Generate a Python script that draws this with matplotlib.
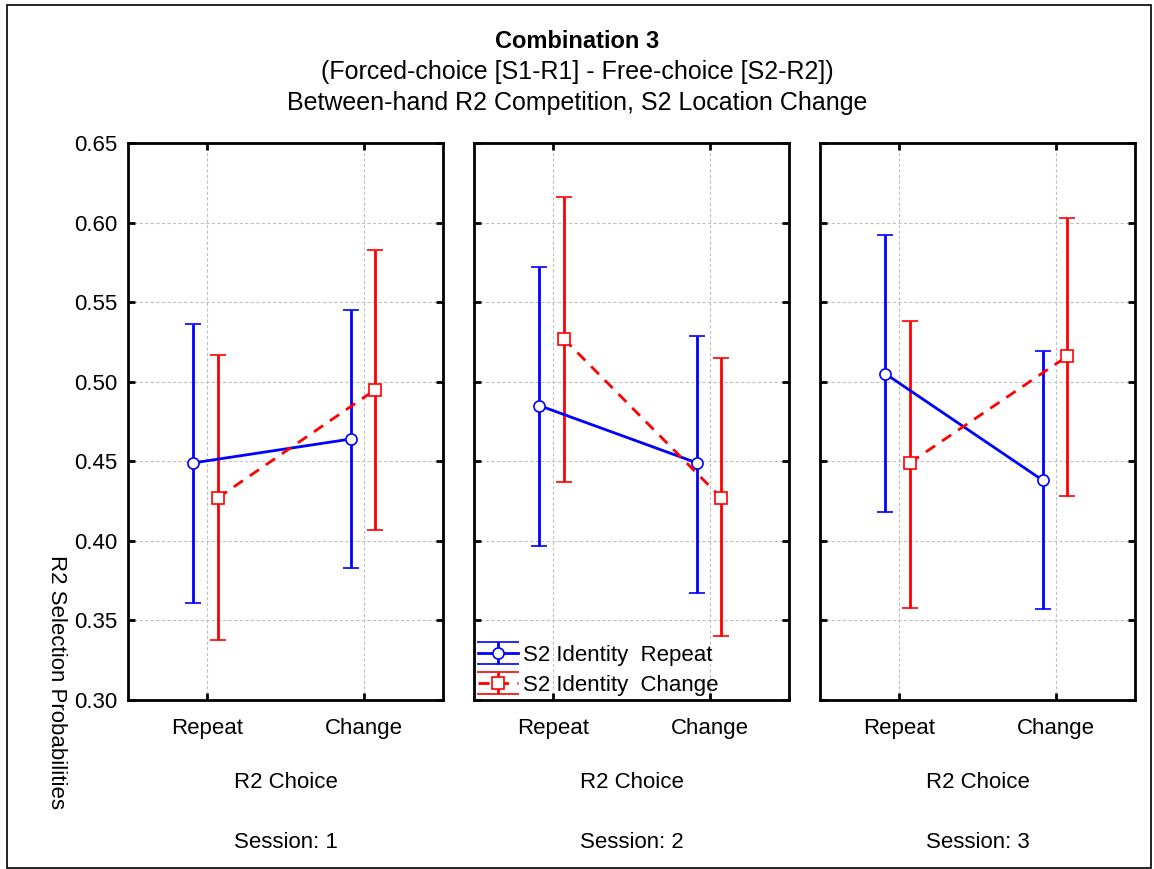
import matplotlib
matplotlib.use("Agg")
import matplotlib.pyplot as plt
from matplotlib.patches import Rectangle
from matplotlib.legend_handler import HandlerErrorbar

plt.rcParams["font.family"] = ["Liberation Sans", "DejaVu Sans"]

# data
categories = ["Repeat", "Change"]
sessions = ["Session: 1", "Session: 2", "Session: 3"]

# S2 Identity Repeat (blue): means, lower and upper limits per session
rep_mean = [[0.449, 0.464], [0.485, 0.449], [0.505, 0.438]]
rep_low = [[0.361, 0.383], [0.397, 0.367], [0.418, 0.357]]
rep_high = [[0.536, 0.545], [0.572, 0.529], [0.592, 0.519]]

# S2 Identity Change (red)
chg_mean = [[0.427, 0.495], [0.527, 0.427], [0.449, 0.516]]
chg_low = [[0.338, 0.407], [0.437, 0.340], [0.358, 0.428]]
chg_high = [[0.517, 0.583], [0.616, 0.515], [0.538, 0.603]]

FS = 16


def wide_caps(h, o):
    # legend caps span the whole handle, like in the original
    h.update_from(o)
    if hasattr(h, "get_marker") and h.get_marker() == "_":
        h.set_markersize(30)


fig = plt.figure(figsize=(11.54, 8.69), dpi=100)

# outer frame
fig.patches.append(Rectangle((0.006, 0.001), 0.991, 0.993, transform=fig.transFigure,
                             fill=False, edgecolor="black", linewidth=1.2))

fig.text(0.5, 0.952, "Combination 3", ha="center", va="center", fontsize=17, fontweight="bold")
fig.text(0.5, 0.917, "(Forced-choice [S1-R1] - Free-choice [S2-R2])", ha="center", va="center", fontsize=18)
fig.text(0.5, 0.881, "Between-hand R2 Competition, S2 Location Change", ha="center", va="center", fontsize=18)
fig.text(0.049, 0.215, "R2 Selection Probabilities", ha="center", va="center", rotation=270, fontsize=FS)

lefts = [128, 474, 820]
width = 315 / 1154
bottom = 169 / 869
height = 557 / 869
x = [0, 1]
off_rep = -0.085
off_chg = 0.07

for i in range(3):
    ax = fig.add_axes([lefts[i] / 1154, bottom, width, height])
    xr = [v + off_rep for v in x]
    xc = [v + off_chg for v in x]
    err_r = [[m - l for m, l in zip(rep_mean[i], rep_low[i])],
             [h - m for m, h in zip(rep_mean[i], rep_high[i])]]
    err_c = [[m - l for m, l in zip(chg_mean[i], chg_low[i])],
             [h - m for m, h in zip(chg_mean[i], chg_high[i])]]
    ax.errorbar(xr, rep_mean[i], yerr=err_r, color="#0000ff", linewidth=2,
                elinewidth=2, capsize=5.5, capthick=2, marker="o", markersize=8,
                markerfacecolor="white", markeredgecolor="#0000ff", markeredgewidth=1.2,
                label="S2 Identity  Repeat", zorder=3)
    ax.errorbar(xc, chg_mean[i], yerr=err_c, color="#ff0000", linewidth=2, linestyle=(0, (4, 3)),
                elinewidth=2, capsize=5.5, capthick=2, marker="s", markersize=8,
                markerfacecolor="white", markeredgecolor="#ff0000", markeredgewidth=1.2,
                label="S2 Identity  Change", zorder=3)

    ax.set_xlim(-0.5, 1.5)
    ax.set_ylim(0.30, 0.65)
    ax.set_xticks(x)
    ax.set_xticklabels(categories, fontsize=FS)
    ax.set_yticks([0.30, 0.35, 0.40, 0.45, 0.50, 0.55, 0.60, 0.65])
    if i == 0:
        ax.set_yticklabels(["%.2f" % v for v in ax.get_yticks()], fontsize=FS)
    else:
        ax.set_yticklabels([])
    ax.tick_params(direction="in", top=True, right=True, length=5, width=2)
    ax.tick_params(axis="x", pad=13)
    ax.tick_params(axis="y", pad=8)
    ax.grid(True, color="#c0c0c0", linestyle=(0, (3, 2)), linewidth=0.8)
    ax.set_axisbelow(True)
    for s in ax.spines.values():
        s.set_linewidth(2)
    ax.set_xlabel("R2 Choice", fontsize=FS, labelpad=24)
    fig.text((lefts[i] + 157.5) / 1154, 1 - 843 / 869, sessions[i], ha="center", va="center", fontsize=FS)

    if i == 1:
        ax.legend(loc="lower left", frameon=False, fontsize=FS, handlelength=1.8,
                  borderaxespad=0.1, labelspacing=0.4, handletextpad=0.2, borderpad=0.1,
                  handler_map={type(ax.containers[0]): HandlerErrorbar(update_func=wide_caps)})

fig.savefig("out.png", dpi=100)
